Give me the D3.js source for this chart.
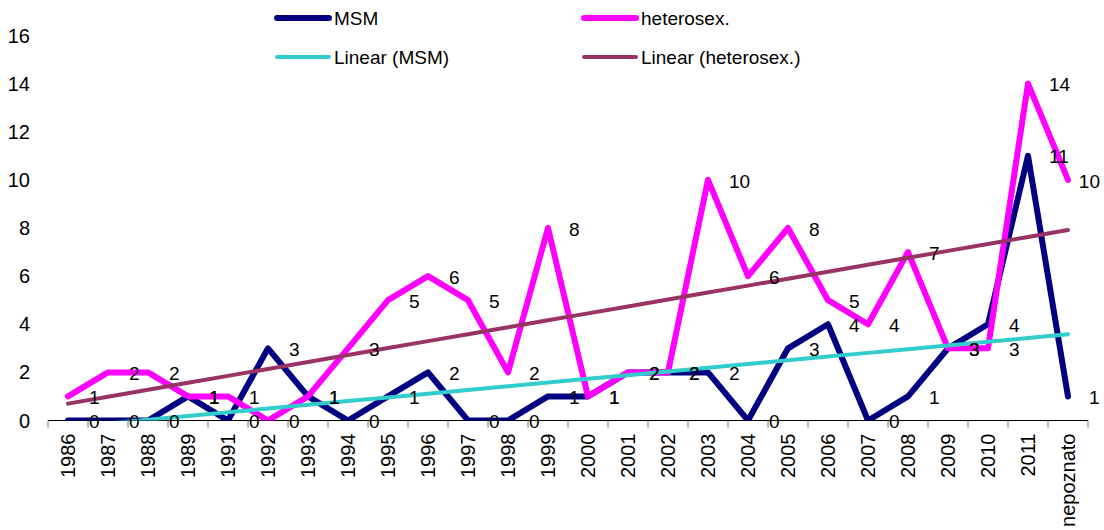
<!DOCTYPE html>
<html><head><meta charset="utf-8">
<script src="https://cdn.jsdelivr.net/npm/d3@7"></script>
<style>body{margin:0;background:#fff}svg{display:block}text{font-family:"Liberation Sans",Arial,sans-serif;fill:#000}</style>
</head><body><svg id="c" width="1104" height="530"></svg>
<script>
const categories = ["1986","1987","1988","1989","1991","1992","1993","1994","1995","1996","1997","1998","1999","2000","2001","2002","2003","2004","2005","2006","2007","2008","2009","2010","2011","nepoznato"];
const msm = [0,0,0,1,0,3,1,0,1,2,0,0,1,1,2,2,2,0,3,4,0,1,3,4,11,1];
const hetero = [1,2,2,1,1,0,1,3,5,6,5,2,8,1,2,2,10,6,8,5,4,7,3,3,14,10];
const yTicks = [0,2,4,6,8,10,12,14,16];
const seriesNames = ["MSM","heterosex.","Linear (MSM)","Linear (heterosex.)"];

const colors = {msm:"#000080", het:"#FF00FF", tmsm:"#33CCCC", thet:"#993366"};
const svg = d3.select("#c");
const pLeft = 48, pRight = 1088, pTop = 35.5, pBottom = 420.5;

const x = d3.scaleBand().domain(categories).range([pLeft, pRight]);
const cx = c => x(c) + x.bandwidth()/2;
const y = d3.scaleLinear().domain([0,16]).range([pBottom, pTop]);

// linear regression over index 1..n (Excel trendline)
function trend(vals){
  const xs = vals.map((_,i)=>i+1);
  const mx = d3.mean(xs), my = d3.mean(vals);
  let sxy=0, sxx=0;
  xs.forEach((xi,i)=>{ sxy += (xi-mx)*(vals[i]-my); sxx += (xi-mx)*(xi-mx); });
  const b = sxy/sxx, a = my - b*mx;
  return xs.map(xi => a + b*xi);
}

svg.append("defs").append("clipPath").attr("id","plot")
  .append("rect").attr("x",pLeft).attr("y",pTop-10).attr("width",pRight-pLeft).attr("height",pBottom-pTop+10);

// y tick labels (no axis line)
svg.append("g").selectAll("text").data(yTicks).join("text")
  .attr("x",30).attr("y",d=>y(d)).attr("dy","0.35em").attr("text-anchor","end")
  .style("font-size","20px").text(d=>d);

// x axis
const xa = svg.append("g").attr("transform",`translate(0,${pBottom})`);
xa.append("line").attr("x1",pLeft).attr("x2",pRight).attr("stroke","#000").attr("stroke-width",1.2);
const bounds = d3.range(categories.length+1).map(i=>pLeft + i*x.bandwidth());
xa.selectAll("line.t").data(bounds).join("line").attr("class","t")
  .attr("x1",d=>d).attr("x2",d=>d).attr("y1",0).attr("y2",7).attr("stroke","#777").attr("stroke-width",1);
xa.selectAll("text").data(categories).join("text")
  .attr("transform",d=>`translate(${cx(d)},${13}) rotate(-90)`)
  .attr("text-anchor","end").attr("dy","0.35em").style("font-size","20px").text(d=>d);

const line = d3.line().x((d,i)=>cx(categories[i])).y(d=>y(d));
const g = svg.append("g").attr("clip-path","url(#plot)");
g.append("path").datum(msm).attr("d",line).attr("fill","none").attr("stroke",colors.msm)
  .attr("stroke-width",6).attr("stroke-linejoin","round").attr("stroke-linecap","round");
g.append("path").datum(hetero).attr("d",line).attr("fill","none").attr("stroke",colors.het)
  .attr("stroke-width",6).attr("stroke-linejoin","round").attr("stroke-linecap","round");

// trends, clipped at y=0
const g2 = svg.append("g").attr("clip-path","url(#plot)");
g2.append("path").datum(trend(msm)).attr("d",line).attr("fill","none").attr("stroke",colors.tmsm)
  .attr("stroke-width",4).attr("stroke-linecap","round");
g2.append("path").datum(trend(hetero)).attr("d",line).attr("fill","none").attr("stroke",colors.thet)
  .attr("stroke-width",4).attr("stroke-linecap","round");

// data labels (kept inside the chart area like the original)
function labels(vals){
  svg.append("g").selectAll("text").data(vals).join("text")
    .attr("x",(d,i)=>cx(categories[i])+21).attr("y",d=>y(d)+1).attr("dy","0.35em")
    .style("font-size","19px").text(d=>d)
    .each(function(){
      const w = this.getComputedTextLength();
      const x0 = +this.getAttribute("x");
      if (x0 + w > 1100) this.setAttribute("x", 1100 - w);
    });
}
labels(msm);
labels(hetero);

// legend
const leg = [
  {name:seriesNames[0], c:colors.msm, w:6, x:277, y:18},
  {name:seriesNames[1], c:colors.het, w:6, x:584, y:18},
  {name:seriesNames[2], c:colors.tmsm, w:4, x:277, y:57},
  {name:seriesNames[3], c:colors.thet, w:4, x:584, y:57}
];
const lg = svg.append("g");
leg.forEach(l=>{
  lg.append("line").attr("x1",l.x).attr("x2",l.x+52).attr("y1",l.y).attr("y2",l.y)
    .attr("stroke",l.c).attr("stroke-width",l.w).attr("stroke-linecap","round");
  lg.append("text").attr("x",l.x+57).attr("y",l.y).attr("dy","0.35em").style("font-size","19px").text(l.name);
});
</script></body></html>
